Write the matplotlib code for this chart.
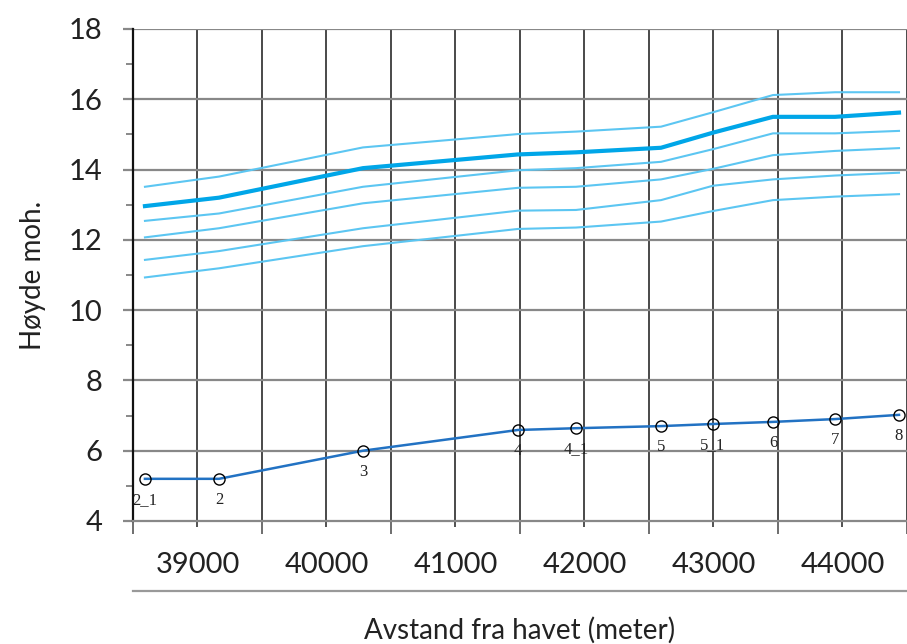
import matplotlib
matplotlib.use("Agg")
import matplotlib.pyplot as plt
from matplotlib.ticker import MultipleLocator, FixedLocator, NullFormatter

# målepunkter langs elva
stasjoner = ["2_1", "2", "3", "4", "4_1", "5", "5_1", "6", "7", "8"]
avstand = [38593, 39167, 40283, 41484, 41934, 42593, 42996, 43461, 43942, 44438]
bunn = [5.2, 5.2, 6.0, 6.59, 6.64, 6.70, 6.76, 6.82, 6.90, 7.02]

# vannstander (flomlinjer), øverst til nederst
flom_1 = [13.51, 13.80, 14.63, 15.01, 15.08, 15.22, 15.63, 16.12, 16.20, 16.20]
flom_2 = [12.96, 13.20, 14.04, 14.43, 14.49, 14.62, 15.05, 15.50, 15.50, 15.62]
flom_3 = [12.54, 12.75, 13.51, 13.98, 14.04, 14.22, 14.58, 15.03, 15.03, 15.10]
flom_4 = [12.07, 12.33, 13.04, 13.48, 13.51, 13.72, 14.02, 14.41, 14.53, 14.61]
flom_5 = [11.43, 11.68, 12.33, 12.83, 12.85, 13.13, 13.54, 13.72, 13.83, 13.91]
flom_6 = [10.93, 11.19, 11.82, 12.31, 12.35, 12.52, 12.82, 13.13, 13.23, 13.30]

x_etiketter = [39000, 40000, 41000, 42000, 43000, 44000]

plt.rcParams['font.family'] = ['Lato', 'DejaVu Sans']

fig = plt.figure(figsize=(9.07, 6.44), dpi=100)
ax = fig.add_axes([0.1466, 0.191, 0.8534, 0.764])

lys = "#5cc6f2"
for serie in [flom_1, flom_3, flom_4, flom_5, flom_6]:
    ax.plot(avstand, serie, color=lys, lw=1.5, zorder=3)
ax.plot(avstand, flom_2, color="#00a6e8", lw=3, zorder=4)

ax.plot(avstand, bunn, color="#2272c3", lw=1.8, zorder=5,
        marker="o", markersize=8, markerfacecolor="none",
        markeredgecolor="black", markeredgewidth=1.0)

for navn, xv, yv in zip(stasjoner, avstand, bunn):
    ax.annotate(navn, (xv, yv), xytext=(0, -15), textcoords="offset points",
                ha="center", va="center", fontsize=12,
                family=["Liberation Serif", "DejaVu Serif"], color="#222222")

ax.set_xlim(38500, 44500)
ax.set_ylim(4, 18)

# rutenett
for v in range(39000, 44501, 500):
    ax.axvline(v, color="#2a2a2a", lw=1.2, zorder=1)
for v in range(6, 19, 2):
    ax.axhline(v, color="#888888", lw=1.6, zorder=1)

ax.yaxis.set_major_locator(MultipleLocator(2))
ax.yaxis.set_minor_locator(MultipleLocator(1))
ax.tick_params(axis="y", which="major", length=7, width=1.6, color="#888888",
               pad=15, labelsize=21, labelcolor="#222222")
ax.tick_params(axis="y", which="minor", length=5, width=1.4, color="#888888")

ax.xaxis.set_major_locator(FixedLocator(list(range(38500, 44501, 1000))))
ax.xaxis.set_major_formatter(NullFormatter())
ax.xaxis.set_minor_locator(FixedLocator(x_etiketter))
ax.xaxis.set_minor_formatter(plt.FixedFormatter([str(v) for v in x_etiketter]))
ax.tick_params(axis="x", which="major", length=9, width=1.2, color="#555555")
ax.tick_params(axis="x", which="minor", length=4, width=1.2, color="#333333",
               pad=18, labelsize=21, labelcolor="#222222")

for side in ["top", "right"]:
    ax.spines[side].set_visible(False)
ax.spines["left"].set_color("#111111")
ax.spines["left"].set_linewidth(1.6)
ax.spines["bottom"].set_color("#888888")
ax.spines["bottom"].set_linewidth(1.6)

# linje under tallene
ax.plot([0, 1], [-0.142, -0.142], transform=ax.transAxes, clip_on=False,
        color="#999999", lw=1.6)

ax.set_ylabel("Høyde moh.", fontsize=20, color="#222222", labelpad=16)
ax.set_xlabel("Avstand fra havet (meter)", fontsize=20, color="#222222", labelpad=28)

fig.savefig("out.png", dpi=100)
